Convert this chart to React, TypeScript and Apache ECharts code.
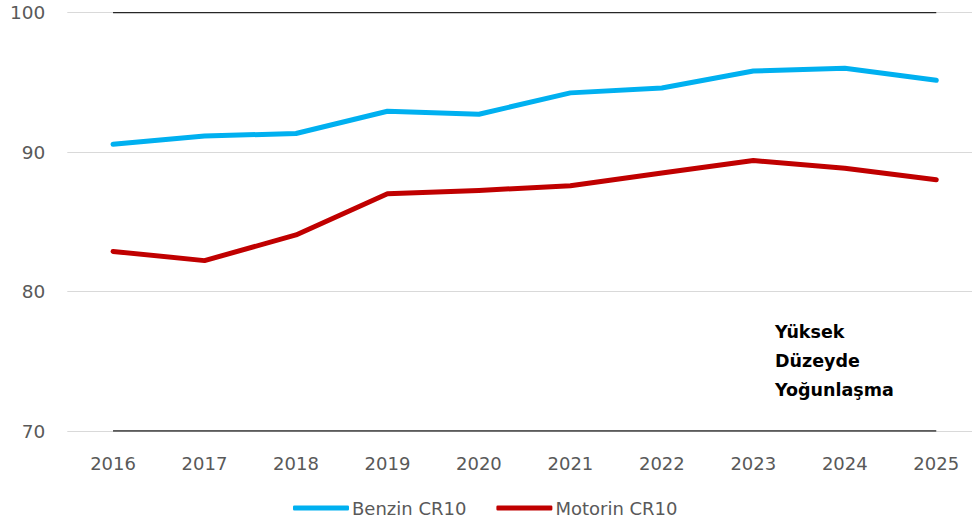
import React, { useEffect, useRef } from "react";
import * as echarts from "echarts";

const years = ["2016", "2017", "2018", "2019", "2020", "2021", "2022", "2023", "2024", "2025"];
const benzin = [90.57, 91.15, 91.34, 92.93, 92.72, 94.25, 94.6, 95.82, 96.01, 95.15];
const motorin = [82.88, 82.22, 84.06, 87.01, 87.25, 87.59, 88.5, 89.4, 88.85, 88.02];
const upperRef = [100, 100, 100, 100, 100, 100, 100, 100, 100, 100];
const lowerRef = [70, 70, 70, 70, 70, 70, 70, 70, 70, 70];
const noteLines = ["Yüksek", "Düzeyde", "Yoğunlaşma"];

export default function App() {
  const ref = useRef<HTMLDivElement>(null);
  useEffect(() => {
    if (!ref.current) return;
    const chart = echarts.init(ref.current, undefined, { renderer: "svg" });
    const font = "DejaVu Sans";
    chart.setOption({
      animation: false,
      backgroundColor: "#ffffff",
      grid: { left: 67.3, right: 0, top: 12.7, bottom: 97 },
      xAxis: {
        type: "category",
        data: years,
        boundaryGap: true,
        axisLine: { show: false },
        axisTick: { show: false },
        axisLabel: { color: "#595959", fontSize: 18, fontFamily: font, margin: 23 },
      },
      yAxis: {
        type: "value",
        min: 70,
        max: 100,
        interval: 10,
        axisLine: { show: false },
        axisTick: { show: false },
        axisLabel: { color: "#595959", fontSize: 18.5, fontFamily: font, margin: 22 },
        splitLine: { lineStyle: { color: "#D9D9D9", width: 1 } },
      },
      legend: {
        data: [
          { name: "Benzin CR10", icon: "roundRect" },
          { name: "Motorin CR10", icon: "roundRect" },
        ],
        bottom: 6,
        left: 288,
        itemWidth: 56,
        itemHeight: 5,
        itemGap: 30,
        textStyle: { color: "#595959", fontSize: 18, fontFamily: font, padding: [0, 0, 0, -2] },
      },
      graphic: [
        {
          type: "text",
          left: 775,
          top: 317,
          style: {
            text: noteLines.join("\n"),
            font: "bold 17.5px 'DejaVu Sans'",
            fill: "#000000",
            lineHeight: 29,
          },
        },
      ],
      series: [
        {
          name: "ref100",
          type: "line",
          data: upperRef,
          showSymbol: false,
          silent: true,
          lineStyle: { color: "#262626", width: 1.3 },
          z: 1,
        },
        {
          name: "ref70",
          type: "line",
          data: lowerRef,
          showSymbol: false,
          silent: true,
          lineStyle: { color: "#262626", width: 1.3 },
          z: 1,
        },
        {
          name: "Benzin CR10",
          type: "line",
          data: benzin,
          showSymbol: false,
          itemStyle: { color: "#00B0F0" },
          lineStyle: { color: "#00B0F0", width: 5, cap: "round", join: "round" },
          z: 3,
        },
        {
          name: "Motorin CR10",
          type: "line",
          data: motorin,
          showSymbol: false,
          itemStyle: { color: "#C00000" },
          lineStyle: { color: "#C00000", width: 5, cap: "round", join: "round" },
          z: 3,
        },
      ],
    });
    return () => chart.dispose();
  }, []);
  return (
    <div
      style={{ position: "absolute", left: 0, top: 0, width: 972, height: 528, overflow: "hidden", background: "#fff" }}
    >
      <div ref={ref} style={{ width: 982, height: 528 }} />
    </div>
  );
}
